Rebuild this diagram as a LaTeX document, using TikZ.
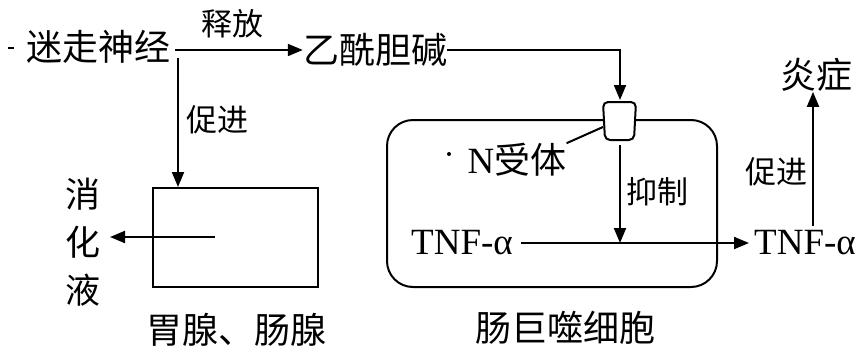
\documentclass[tikz,border=0pt]{standalone}
\usepackage{fontspec}
\setmainfont{Noto Sans CJK SC}
\newfontfamily\lat{Liberation Serif}
\usetikzlibrary{arrows.meta}
\tikzset{
  line/.style={line width=2pt},
  arr/.style={line width=2pt,-{Triangle[length=15pt,width=12pt]}},
  big/.style={inner sep=0pt,font=\fontsize{36}{40}\selectfont},
  lbl/.style={inner sep=0pt,font=\fontsize{31}{36}\selectfont},
  tnf/.style={inner sep=0pt,font=\lat\fontsize{37}{40}\selectfont},
}
\begin{document}
\begin{tikzpicture}[x=1pt,y=-1pt]
\useasboundingbox (0,0) rectangle (859,351);
% left part
\node[big] (vagus) at (99,47) {迷走神经};
\fill (8,47) rectangle (14,49);
\node[big] (ach) at (375,50) {乙酰胆碱};
\coordinate (vs) at (175,50);
\draw[arr] (vs) -- (ach.west);
\node[lbl] (release) at (232,24) {释放};
\coordinate (vd) at (178,58);
\node[draw,line,minimum width=165pt,minimum height=99pt,inner sep=0pt] (gland) at (235.5,237.5) {};
\draw[arr] (vd) -- (vd |- gland.north);
\node[lbl] (promote1) at (217,120) {促进};
\coordinate (gin) at (215,237);
\coordinate (gout) at (110,237);
\node[big,align=center,font=\fontsize{35}{48}\selectfont] (juice) at (83,242) {消\\化\\液};
\draw[arr] (gin) -- (gout);
\node[big] (glandname) at (236,330) {胃腺、肠腺};
% cell
\node[draw,line,rounded corners=26pt,minimum width=330pt,minimum height=167pt,inner sep=0pt] (cell) at (552,203.5) {};
\node[big] (cellname) at (565,328) {肠巨噬细胞};
\draw[line,fill=white,rounded corners=5pt] (603,102) -- (605,140) -- (634,140) -- (636,102) -- cycle;
\coordinate (rectop) at (620,100);
\coordinate (recbot) at (620,145);
\coordinate (recleft) at (603,127);
\coordinate (achc) at (620,50);
\draw[arr] (ach.east) -- (achc) -- (rectop);
\node[inner sep=0pt] (nrec) at (517,160) {{\lat\fontsize{37}{40}\selectfont N}\fontsize{36}{40}\selectfont 受体};
\fill (449,154) circle (2pt);
\draw[line] (recleft) -- (nrec.north east);
\node[tnf] (tnf1) at (462,243) {TNF-α};
\node[tnf] (tnf2) at (805,243) {TNF-α};
\coordinate (tnfjoin) at (620,243);
\draw[arr] (recbot) -- (tnfjoin);
\node[lbl] (inhibit) at (657,192) {抑制};
\draw[arr,shorten >=5pt] (tnf1.east) ++(8,0) -- (tnf2.west);
\node[big] (inflam) at (816,75) {炎症};
\coordinate (tnf2top) at (813,226);
\draw[arr] (tnf2top) -- (tnf2top |- inflam.south);
\node[lbl] (promote2) at (776,172) {促进};
\end{tikzpicture}
\end{document}
